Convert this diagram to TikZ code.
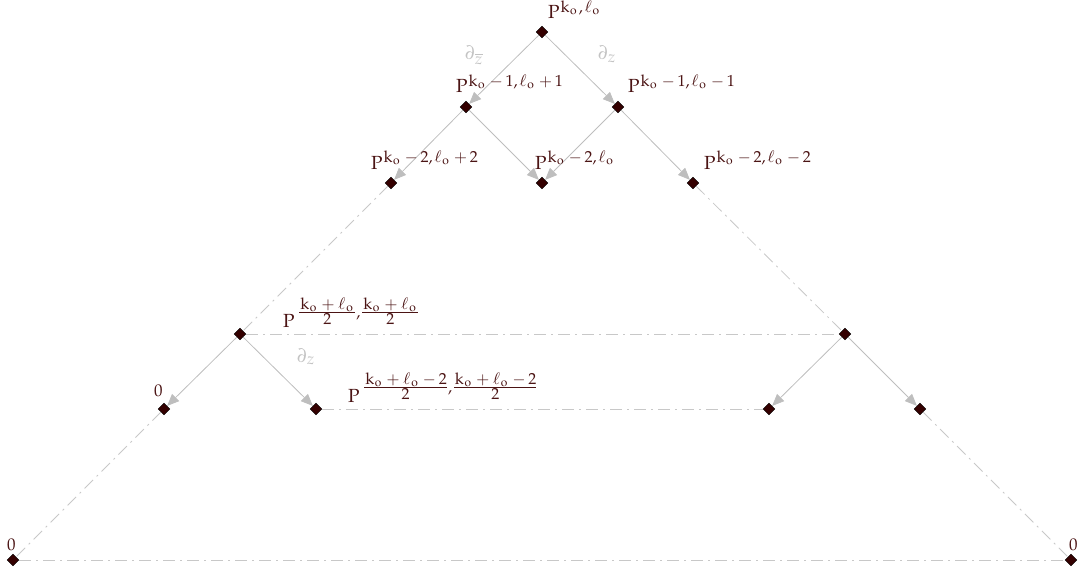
\documentclass[tikz,border=0pt]{standalone}
\usepackage{amsmath}
\usepackage{mathpazo}
\usetikzlibrary{shapes.geometric,arrows.meta}
\DeclareMathSizes{19}{19}{16}{12}
\definecolor{dot}{RGB}{52,0,0}
\definecolor{lab}{RGB}{75,20,20}
\definecolor{arr}{RGB}{190,190,190}
\definecolor{dd}{RGB}{200,200,200}
\definecolor{dlab}{RGB}{195,195,195}
\newcommand{\kO}{\mkern1mu\mathrm{k}_{\mkern1mu\mathrm{o}}\mkern2mu}
\newcommand{\lO}{\mkern1mu\ell_{\mkern1mu\mathrm{o}}\mkern2mu}
\newcommand{\mM}{\mkern3mu{-}\mkern3mu}
\newcommand{\pP}{\mkern3mu{+}\mkern3mu}
\newcommand{\cC}{,\mkern1mu}
\newcommand{\hfr}[1]{\genfrac{}{}{}{1}{#1}{2}}
\tikzset{
  pt/.style={diamond,fill=dot,draw=black,line width=0.4pt,inner sep=0pt,minimum size=12pt},
  arrowline/.style={draw=arr,line width=0.8pt,-{Triangle[length=12pt,width=10pt,fill=arr]}},
  dashdot/.style={draw=dd,line width=0.8pt,dash pattern=on 12pt off 5pt on 2pt off 5pt},
  plab/.style={text=lab,inner sep=0pt,anchor=base west,font=\fontsize{19}{22}\selectfont},
  zlab/.style={text=lab,inner sep=0pt,anchor=base west,font=\fontsize{17}{20}\selectfont},
  dlabel/.style={text=dlab,inner sep=0pt,anchor=base west,font=\fontsize{19}{22}\selectfont}
}
\begin{document}
\begin{tikzpicture}[x=1pt,y=-1pt]
\useasboundingbox (0,0) rectangle (1084,575);
% nodes
\node[pt] (A) at (542,32) {};
\node[pt] (B1) at (466,107) {};
\node[pt] (B2) at (618,107) {};
\node[pt] (C1) at (391,183) {};
\node[pt] (C2) at (542,183) {};
\node[pt] (C3) at (693,183) {};
\node[pt] (D1) at (240,334) {};
\node[pt] (D2) at (845,334) {};
\node[pt] (E1) at (164,409) {};
\node[pt] (E2) at (316,409) {};
\node[pt] (E3) at (769,409) {};
\node[pt] (E4) at (920,409) {};
\node[pt] (F1) at (13,560) {};
\node[pt] (F2) at (1071,560) {};
% dash-dot lines
\draw[dashdot] (C1) -- (D1);
\draw[dashdot] (C3) -- (D2);
\draw[dashdot] (D1) -- (D2);
\draw[dashdot] (E2) -- (E3);
\draw[dashdot] (E1) -- (F1);
\draw[dashdot] (E4) -- (F2);
\draw[dashdot] (F1) -- (F2);
% arrows
\draw[arrowline] (A) -- (B1);
\draw[arrowline] (A) -- (B2);
\draw[arrowline] (B1) -- (C1);
\draw[arrowline] (B1) -- (C2);
\draw[arrowline] (B2) -- (C2);
\draw[arrowline] (B2) -- (C3);
\draw[arrowline] (D1) -- (E1);
\draw[arrowline] (D1) -- (E2);
\draw[arrowline] (D2) -- (E3);
\draw[arrowline] (D2) -- (E4);
% labels
\node[plab] (lA) at (548,19) {$\mathrm{P}^{\kO\cC\lO}$};
\node[plab] (lB1) at (456,93) {$\mathrm{P}^{\kO\mM1\cC\lO\pP1}$};
\node[plab] (lB2) at (628,93) {$\mathrm{P}^{\kO\mM1\cC\lO\mM1}$};
\node[plab] (lC1) at (371,169) {$\mathrm{P}^{\kO\mM2\cC\lO\pP2}$};
\node[plab] (lC2) at (535,169) {$\mathrm{P}^{\kO\mM2\cC\lO}$};
\node[plab] (lC3) at (704,169) {$\mathrm{P}^{\kO\mM2\cC\lO\mM2}$};
\node[plab] (lD1) at (283,327) {$\mathrm{P}^{\mkern4mu\hfr{\kO\pP\lO}\cC\hfr{\kO\pP\lO}}$};
\node[plab] (lE2) at (348,402) {$\mathrm{P}^{\mkern4mu\hfr{\kO\pP\lO\mM2}\cC\hfr{\kO\pP\lO\mM2}}$};
\node[zlab] (lE1) at (154,396) {$0$};
\node[zlab] (lF1) at (7,550) {$0$};
\node[zlab] (lF2) at (1069,550) {$0$};
\node[dlabel] (d1) at (465,60) {$\partial_{\overline{z}}$};
\node[dlabel] (d2) at (598,60) {$\partial_z$};
\node[dlabel] (d3) at (297,362) {$\partial_z$};
\end{tikzpicture}
\end{document}
